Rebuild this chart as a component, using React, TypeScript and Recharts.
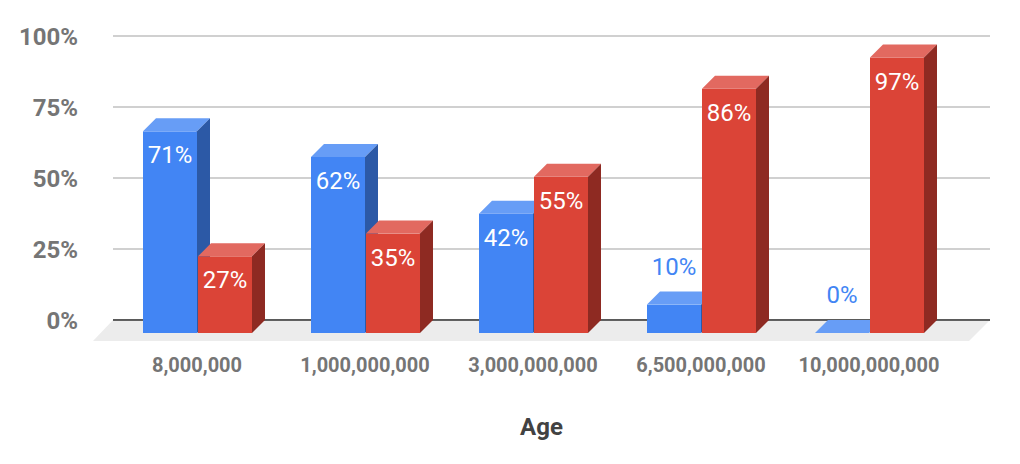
import React from "react";
import {
  Bar,
  XAxis,
  YAxis,
  BarChart,
  CartesianGrid,
  ReferenceArea,
} from "recharts";

const categories = [
  "8,000,000",
  "1,000,000,000",
  "3,000,000,000",
  "6,500,000,000",
  "10,000,000,000",
];
const blueShare = [71, 62, 42, 10, 0];
const redShare = [27, 35, 55, 86, 97];
const percentTicks = [0, 25, 50, 75, 100];

const data = categories.map((age, i) => ({
  age,
  blue: blueShare[i],
  red: redShare[i],
}));

// offset between the back plane (where the scale lives) and the front faces
const DEPTH = 13;
// x-axis padding, the floor has to reach past it to the grid ends
const PAD_LEFT = 13;
const PAD_RIGHT = 24;

const makeBox =
  (key: string, front: string, top: string, side: string) => (props: any) => {
    const { x, y, width, height, payload } = props;
    const fx = x - DEPTH;
    const fy = y + DEPTH;
    const value = payload[key];
    const inside = height > 40;
    return (
      <g>
        <rect x={fx} y={fy} width={width} height={height} fill={front} />
        <polygon
          points={`${fx},${fy} ${x},${y} ${x + width},${y} ${fx + width},${fy}`}
          fill={top}
        />
        <polygon
          points={`${fx + width},${fy} ${x + width},${y} ${x + width},${y + height} ${fx + width},${fy + height}`}
          fill={side}
        />
        <text
          x={fx + width / 2}
          y={inside ? fy + 32 : y - 17}
          textAnchor="middle"
          fill={inside ? "#ffffff" : front}
          fontSize={24}
          fontFamily="Roboto"
        >
          {value}%
        </text>
      </g>
    );
  };

const Floor = (props: any) => {
  const { y, height } = props;
  const left = props.x - PAD_LEFT;
  const right = props.x + props.width + PAD_RIGHT;
  const b = y + height;
  return (
    <g>
      <polygon
        points={`${left},${b} ${right},${b} ${right - 21},${b + 21} ${left - 20},${b + 21}`}
        fill="#ececec"
      />
      <line x1={left} x2={right} y1={b} y2={b} stroke="#333333" strokeWidth={1.5} />
    </g>
  );
};

const YTick = (props: any) => {
  const { x, y, payload } = props;
  return (
    <text
      x={x}
      y={y}
      dy="0.36em"
      textAnchor="end"
      fill="#757575"
      fontSize={24}
      fontWeight="bold"
      fontFamily="Roboto"
    >
      {payload.value}%
    </text>
  );
};

const XTick = (props: any) => {
  const { x, y, payload } = props;
  return (
    <text
      x={x - DEPTH}
      y={y + 52}
      textAnchor="middle"
      fill="#757575"
      fontSize={20}
      fontWeight="bold"
      fontFamily="Roboto"
    >
      {payload.value}
    </text>
  );
};

const AxisTitle = (props: any) => {
  const { x, y, width } = props.viewBox;
  return (
    <text
      x={x + width / 2 - 10}
      y={y + 115}
      textAnchor="middle"
      fill="#424242"
      fontSize={24}
      fontWeight="bold"
      fontFamily="Roboto"
    >
      Age
    </text>
  );
};

const App: React.FC = () => {
  return (
    <div style={{ position: "absolute", left: 0, top: 0, background: "#fff" }}>
      <BarChart
        width={1020}
        height={464}
        data={data}
        margin={{ top: 36, right: 30, bottom: 24, left: 0 }}
        barGap={1}
        barSize={54}
      >
        <CartesianGrid vertical={false} stroke="#d0d0d0" strokeWidth={2} />
        <ReferenceArea y1={0} y2={100} shape={Floor} ifOverflow="visible" />
        <XAxis
          dataKey="age"
          height={120}
          padding={{ left: PAD_LEFT, right: PAD_RIGHT }}
          axisLine={false}
          tickLine={false}
          tickSize={0}
          tickMargin={0}
          interval={0}
          tick={XTick}
          label={{ content: AxisTitle }}
        />
        <YAxis
          width={113}
          domain={[0, 100]}
          ticks={percentTicks}
          axisLine={false}
          tickLine={false}
          tickSize={0}
          tickMargin={35}
          tick={YTick}
        />
        <Bar
          dataKey="blue"
          fill="#4285f4"
          isAnimationActive={false}
          shape={makeBox("blue", "#4285f4", "#679df6", "#2c59a6")}
        />
        <Bar
          dataKey="red"
          fill="#db4437"
          isAnimationActive={false}
          shape={makeBox("red", "#db4437", "#e26960", "#8e2a22")}
        />
      </BarChart>
    </div>
  );
};

export default App;
